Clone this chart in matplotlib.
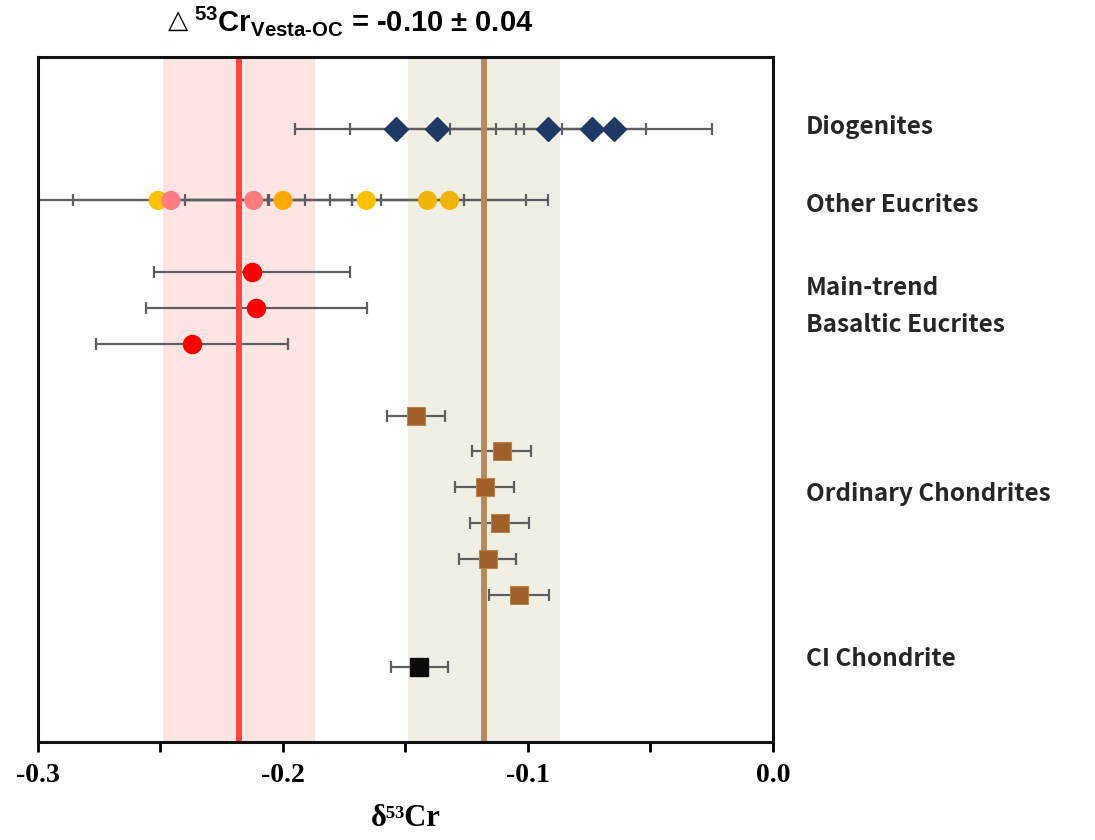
#Recreating the d53Cr comparison plot (Vesta vs ordinary chondrites)

import numpy as np
import matplotlib.pyplot as plt
import matplotlib.transforms as mtransforms

plt.rcParams['mathtext.fontset'] = 'custom'
plt.rcParams['mathtext.bf'] = 'Liberation Sans:bold'
plt.rcParams['mathtext.rm'] = 'Liberation Sans:bold'
plt.rcParams['mathtext.default'] = 'bf'

#Data
dio_val = [-0.154, -0.137, -0.092, -0.074, -0.065]
dio_err = [0.041, 0.0355, 0.040, 0.012, 0.040]

oe_val = [-0.251, -0.2457, -0.212, -0.200, -0.166, -0.141, -0.132]
oe_err = [0.060, 0.040, 0.040, 0.040, 0.040, 0.040, 0.040]
oe_col = ['#FFC000', '#FF7C80', '#FF7C80', '#FFA800', '#FFC000', '#F2B400', '#F2B400']

mt_val = [-0.2127, -0.2109, -0.2371]
mt_err = [0.040, 0.045, 0.0393]

oc_val = [-0.1457, -0.1107, -0.1177, -0.1115, -0.1165, -0.1037]
oc_err = [0.012, 0.0121, 0.0122, 0.012, 0.0118, 0.0121]

ci_val = [-0.1443]
ci_err = [0.0118]

vesta_mean, vesta_unc = -0.218, 0.031
oc_mean, oc_unc = -0.118, 0.031

#Row numbers (top to bottom)
dio_row = [2] * len(dio_val)
oe_row = [4] * len(oe_val)
mt_row = [6, 7, 8]
oc_row = [10, 11, 12, 13, 14, 15]
ci_row = [17]

group_names = ['Diogenites', 'Other Eucrites', 'Main-trend', 'Basaltic Eucrites',
               'Ordinary Chondrites', 'CI Chondrite']
group_rows = [1.95, 4.13, 6.44, 7.47, 12.19, 16.79]

fig = plt.figure(figsize=(10.95, 8.4), dpi=100)
ax = fig.add_axes([0.0347, 0.1167, 0.6712, 0.8155])

#Bands and mean lines
ax.axvspan(vesta_mean - vesta_unc, vesta_mean + vesta_unc, color='#FFE4E4', zorder=0, lw=0)
ax.axvspan(oc_mean - oc_unc, oc_mean + oc_unc, color='#F1EFE4', zorder=0, lw=0)
ax.axvline(vesta_mean, color='#FF4444', lw=4.3, zorder=2)
ax.axvline(oc_mean, color='#B38B5E', lw=4.3, zorder=2)

eb = dict(fmt='none', ecolor='#5E5E5E', elinewidth=1.6, capsize=4, capthick=1.6, zorder=1)

ax.errorbar(dio_val, dio_row, xerr=dio_err, **eb)
ax.plot(dio_val, dio_row, 'D', color='#1F3864', ms=12.5, ls='none', zorder=3)

ax.errorbar(oe_val, oe_row, xerr=oe_err, **eb)
ax.scatter(oe_val, oe_row, c=oe_col, s=190, marker='o', zorder=3, lw=0)

ax.errorbar(mt_val, mt_row, xerr=mt_err, **eb)
ax.plot(mt_val, mt_row, 'o', color='#FF0000', ms=13, ls='none', zorder=3)

ax.errorbar(oc_val, oc_row, xerr=oc_err, **eb)
ax.plot(oc_val, oc_row, 's', color='#A0602A', mec='#B8834E', mew=0.8, ms=13, ls='none', zorder=3)

ax.errorbar(ci_val, ci_row, xerr=ci_err, **eb)
ax.plot(ci_val, ci_row, 's', color='#0D0A05', ms=13, ls='none', zorder=3)

#Axes styling
ax.set_xlim(-0.3, 0.0)
ax.set_ylim(19.1, 0)
ax.set_xticks(np.arange(-0.3, 0.001, 0.05))
ax.set_xticklabels(['-0.3', '', '-0.2', '', '-0.1', '', '0.0'],
                   fontfamily='Liberation Serif', fontweight='bold', fontsize=20)
ax.set_yticks([])
ax.tick_params(axis='x', direction='out', length=7, width=2, pad=8)
for s in ax.spines.values():
    s.set_linewidth(2.2)
    s.set_color('#111111')

ax.set_xlabel('δ⁵³Cr', fontfamily=['Liberation Serif', 'DejaVu Serif'],
              fontweight='bold', fontsize=22, labelpad=12)

#Group labels on the right
trans = mtransforms.blended_transform_factory(ax.transAxes, ax.transData)
for name, r in zip(group_names, group_rows):
    ax.text(1.045, r, name, transform=trans, ha='left', va='center',
            fontsize=17.5, fontweight='bold', fontfamily='Noto Sans CJK SC', color='#262626',
            clip_on=False)

#Title
fig.text(0.153, 0.975, '△', fontsize=19, fontfamily='DejaVu Sans', va='center', ha='left')
fig.text(0.177, 0.975, r'$^{53}$Cr$_{Vesta\text{-}OC}$ = -0.10 ± 0.04',
         fontsize=21, fontweight='bold', fontfamily=['Liberation Sans', 'DejaVu Sans'],
         va='center', ha='left')

plt.savefig('out.png', dpi=100)
